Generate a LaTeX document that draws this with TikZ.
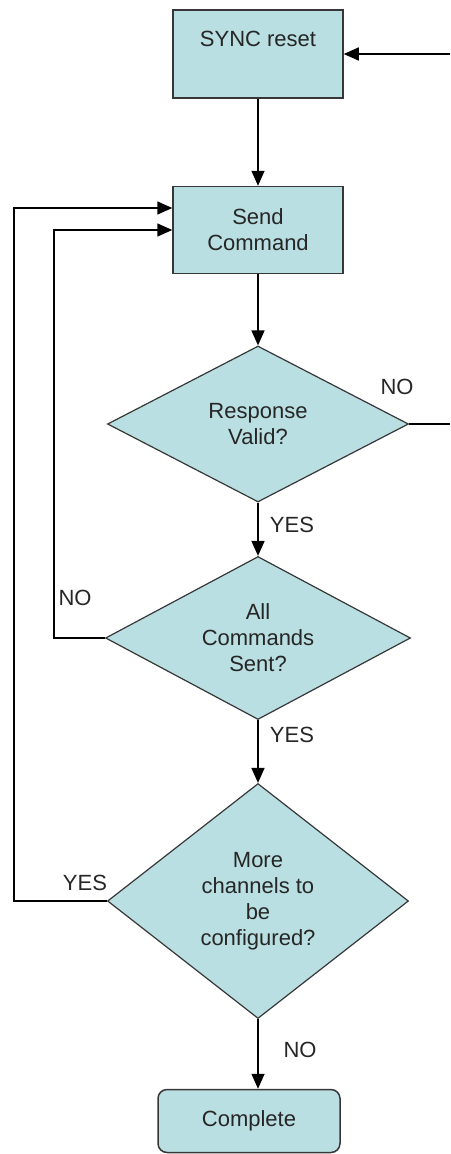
\documentclass[tikz,border=0pt]{standalone}
\usepackage{fontspec}
\setmainfont{Liberation Sans}
\usetikzlibrary{shapes.geometric,arrows.meta}
\definecolor{boxfill}{RGB}{185,223,226}
\definecolor{boxline}{RGB}{55,55,55}
\begin{document}
\begin{tikzpicture}[x=1pt,y=-1pt,
  every node/.style={font=\fontsize{22}{26}\selectfont, text=black!85},
  procbox/.style={draw=boxline, fill=boxfill, line width=1.5pt,
    minimum width=170pt, minimum height=88pt, inner sep=0pt, align=center},
  decision/.style={diamond, draw=boxline, fill=boxfill, line width=1.2pt,
    inner sep=0pt, align=center},
  flow/.style={line width=1.6pt, -{Triangle[length=15pt,width=13pt]}},
  link/.style={line width=1.6pt},
  tag/.style={inner sep=0pt}]
\useasboundingbox (0,0) rectangle (450,1154);

% process steps and decisions
\node[procbox] (sync) at (258,54) {SYNC reset\\[4pt]~};
\node[procbox, minimum height=87pt] (send) at (258,230) {Send\\Command};
\node[decision, minimum width=301pt, minimum height=156pt, aspect=1.93]
  (resp) at (258,424) {Response\\Valid?};
\node[decision, minimum width=305pt, minimum height=163pt, aspect=1.87]
  (all) at (258,638) {All\\Commands\\Sent?};
\node[decision, minimum width=301pt, minimum height=235pt, aspect=1.28]
  (more) at (258,901) {More\\channels to\\be\\configured?};
\node[procbox, rounded corners=9pt, minimum width=182pt, minimum height=63pt]
  (done) at (249,1121) {Complete};

% loose ends leaving at the right margin
\coordinate (syncin) at (450,54);
\coordinate (respout) at (450,424);

% main flow
\draw[flow] (syncin) -- (sync.east);
\draw[flow] (sync.south) -- (send.north);
\draw[flow] (send.south) -- (resp.north);
\draw[link] (resp.east) -- (respout);
\draw[flow] (resp.south) -- (all.north);
\draw[flow] (all.south) -- (more.north);
\draw[flow] (more.south) -- (more.south |- done.north);

% return loops
\draw[flow] (all.west) -- ++(-51,0) |- (send.west);
\draw[flow] (more.west) -- ++(-93,0) |- ([yshift=22pt]send.west);

% branch labels
\node[tag] at (397,387) {NO};
\node[tag] at (292,525) {YES};
\node[tag] at (75,598) {NO};
\node[tag] at (292,735) {YES};
\node[tag] at (85,883) {YES};
\node[tag] at (300,1050) {NO};
\end{tikzpicture}
\end{document}
